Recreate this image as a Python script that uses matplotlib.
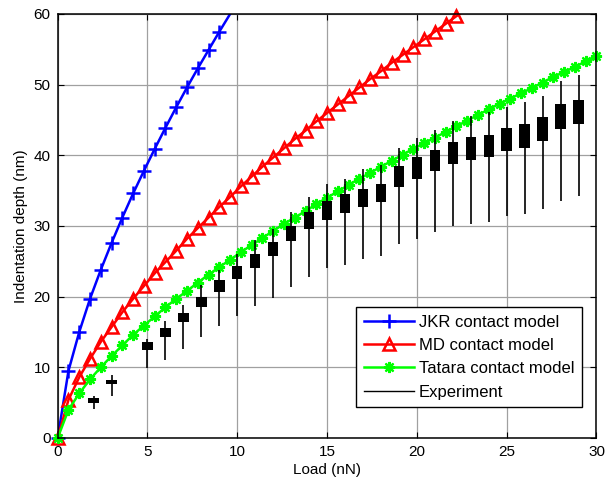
import matplotlib
matplotlib.use("Agg")
import matplotlib.pyplot as plt
from matplotlib.lines import Line2D

plt.rcParams["font.family"] = ["Liberation Sans", "DejaVu Sans"]

# Applied load (nN) at which the model curves are sampled
load = [0.0, 0.6, 1.2, 1.8, 2.4, 3.0, 3.6, 4.2, 4.8, 5.4,
        6.0, 6.6, 7.2, 7.8, 8.4, 9.0, 9.6, 10.2, 10.8, 11.4,
        12.0, 12.6, 13.2, 13.8, 14.4, 15.0, 15.6, 16.2, 16.8, 17.4,
        18.0, 18.6, 19.2, 19.8, 20.4, 21.0, 21.6, 22.2, 22.8, 23.4,
        24.0, 24.6, 25.2, 25.8, 26.4, 27.0, 27.6, 28.2, 28.8, 29.4,
        30.0]

# Indentation depth (nm) predicted by each contact model
jkr_depth = [0.0, 9.5, 15.0, 19.7, 23.8, 27.6, 31.2, 34.6, 37.8, 40.9,
             43.9, 46.8, 49.6, 52.3, 54.9, 57.5, 60.0, 62.5]
md_depth = [0.0, 5.4, 8.6, 11.2, 13.6, 15.7, 17.8, 19.7, 21.5, 23.3,
            24.9, 26.5, 28.2, 29.7, 31.2, 32.7, 34.1, 35.6, 37.0, 38.4,
            39.7, 41.0, 42.3, 43.5, 44.8, 46.0, 47.2, 48.4, 49.6, 50.8,
            51.9, 53.1, 54.2, 55.3, 56.4, 57.5, 58.6, 59.7, 60.7]
tatara_depth = [0.0, 4.0, 6.3, 8.3, 10.0, 11.6, 13.1, 14.6, 15.9, 17.2,
                18.5, 19.7, 20.8, 22.0, 23.1, 24.2, 25.2, 26.3, 27.3, 28.3,
                29.3, 30.3, 31.2, 32.1, 33.1, 34.0, 34.9, 35.8, 36.7, 37.5,
                38.4, 39.2, 40.1, 40.9, 41.7, 42.5, 43.3, 44.1, 44.9, 45.7,
                46.5, 47.3, 48.0, 48.8, 49.5, 50.3, 51.1, 51.8, 52.5, 53.3,
                54.0]

# Experimental indentation statistics (nm) per load step
exp_load = [2, 3, 5, 6, 7, 8, 9, 10, 11, 12, 13, 14, 15, 16, 17, 18,
            19, 20, 21, 22, 23, 24, 25, 26, 27, 28, 29]
exp_min = [4.1, 6.0, 9.9, 11.0, 12.6, 14.3, 15.9, 17.3, 18.7, 19.8,
           21.4, 22.8, 24.0, 24.5, 25.3, 25.8, 27.4, 28.2, 29.1, 30.0,
           30.3, 30.6, 31.4, 31.7, 32.4, 33.6, 34.2]
exp_q1 = [5.0, 7.6, 12.5, 14.3, 16.4, 18.6, 20.7, 22.5, 24.1, 25.7,
          27.9, 29.6, 30.9, 31.9, 32.7, 33.4, 35.5, 36.7, 37.8, 38.8,
          39.4, 39.8, 40.6, 41.1, 42.0, 43.7, 44.4]
exp_q3 = [5.6, 8.2, 13.6, 15.6, 17.7, 19.9, 22.3, 24.3, 26.1, 27.7,
          30.0, 32.0, 33.5, 34.5, 35.3, 36.0, 38.5, 39.7, 40.7, 41.9,
          42.6, 42.9, 43.8, 44.4, 45.4, 47.2, 47.8]
exp_max = [5.9, 8.9, 14.0, 16.6, 18.8, 21.6, 23.8, 26.0, 28.0, 29.6,
           32.0, 34.1, 36.0, 36.7, 38.1, 38.6, 41.0, 42.5, 43.6, 44.9,
           45.5, 46.1, 46.8, 47.5, 48.4, 50.5, 51.3]

x_ticks = [0, 5, 10, 15, 20, 25, 30]
y_ticks = [0, 10, 20, 30, 40, 50, 60]

fig = plt.figure(figsize=(6.06, 4.86), dpi=100)
ax = fig.add_axes([0.0952, 0.0988, 0.8891, 0.8724])

styles = [
    ("JKR contact model", jkr_depth, dict(color="#0000ff", marker="+", ms=10, mew=1.8, mfc="none")),
    ("MD contact model", md_depth, dict(color="#ff0000", marker="^", ms=9, mew=1.8, mfc="none")),
    ("Tatara contact model", tatara_depth, dict(color="#00ff00", marker=(8, 2, 0), ms=8, mew=1.6, mfc="none")),
]

handles = []
for label, depth, st in styles:
    xs = load[:len(depth)]
    # the line is clipped at the axes frame
    ax.plot(xs, depth, color=st["color"], lw=1.8, zorder=2)
    # markers are drawn whole for every sample inside the y range
    keep = [i for i, d in enumerate(depth) if d < 60]
    ax.plot([xs[i] for i in keep], [depth[i] for i in keep], ls="none",
            marker=st["marker"], ms=st["ms"], mew=st["mew"], mfc=st["mfc"],
            mec=st["color"], clip_on=False, zorder=2)
    handles.append(Line2D([], [], color=st["color"], lw=1.8, marker=st["marker"],
                          ms=st["ms"], mew=st["mew"], mfc=st["mfc"], mec=st["color"]))

# Experimental spread: whiskers from min to max, boxes between quartiles
ax.vlines(exp_load, exp_min, exp_max, color="black", lw=1.2, zorder=3)
ax.bar(exp_load, [h - l for h, l in zip(exp_q3, exp_q1)], bottom=exp_q1,
       width=0.58, color="black", zorder=4)
handles.append(Line2D([], [], color="black", lw=1.0))

ax.set_xlim(0, 30)
ax.set_ylim(0, 60)
ax.set_xticks(x_ticks)
ax.set_yticks(y_ticks)
ax.grid(True, color="#a0a0a0", lw=0.9, ls="-")
ax.set_axisbelow(True)
ax.tick_params(direction="in", length=4, width=0.8, top=True, right=True,
               labelsize=11, pad=5)
for sp in ax.spines.values():
    sp.set_linewidth(1.1)
    sp.set_color("black")

ax.set_xlabel("Load (nN)", fontsize=11, labelpad=3)
ax.set_ylabel("Indentation depth (nm)", fontsize=11, labelpad=4)

leg = ax.legend(handles, ["JKR contact model", "MD contact model",
                          "Tatara contact model", "Experiment"],
                loc="lower right", bbox_to_anchor=(0.973, 0.073),
                borderaxespad=0, fontsize=12, handlelength=3.0,
                handletextpad=0.3, labelspacing=0.5, borderpad=0.45,
                fancybox=False, framealpha=1, edgecolor="black")
leg.get_frame().set_linewidth(1.0)
leg.set_zorder(10)

fig.savefig("out.png", dpi=100)
